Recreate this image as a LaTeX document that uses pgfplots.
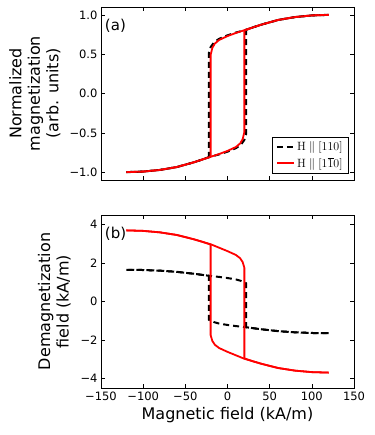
\documentclass[border=0pt]{standalone}
\usepackage[no-math]{fontspec}
\setmainfont{DejaVu Sans}
\usepackage{pgfplots}
\pgfplotsset{compat=1.18}

\pgfplotsset{
  mplstyle/.style={
    scale only axis, width=253pt, height=173pt,
    xmin=-150, xmax=150,
    xtick={-150,-100,-50,0,50,100,150},
    tick align=inside, tick pos=both,
    major tick length=4pt,
    tick style={black, line width=0.6pt},
    axis line style={line width=0.8pt},
    ticklabel style={font=\fontsize{11.5}{13}\selectfont},
    label style={font=\fontsize{16}{18.5}\selectfont, align=center},
  },
  blk/.style={black, line width=2pt, dash pattern=on 6pt off 4pt},
  rd/.style={red, line width=1.8pt},
}

\begin{document}
\begin{tikzpicture}
\path[use as bounding box] (0,0) rectangle (374pt,-435pt);

% (a) magnetization
\begin{axis}[mplstyle,
  at={(101pt,-7pt)}, anchor=north west,
  ymin=-1.1, ymax=1.1,
  ytick={-1,-0.5,0,0.5,1},
  yticklabels={−1.0,−0.5,0.0,0.5,1.0},
  xticklabels={},
  ylabel={Normalized\\magnetization\\(arb. units)},
  every axis y label/.append style={at={(axis description cs:-0.261,0.5)}, anchor=center},
  legend style={at={(0.98,0.035)}, anchor=south east, draw=black, line width=0.6pt,
    font=\fontsize{13}{14}\selectfont, row sep=1pt, inner xsep=4pt, inner ysep=3pt},
  legend cell align=left,
]
\addplot[blk] coordinates {
  (120,1.0)(100,0.993)(80,0.972)(60,0.935)(40,0.875)(30,0.84)(22,0.81)(10,0.775)(0,0.74)
  (-10,0.695)(-16,0.65)(-20,0.59)(-22,0.52)(-22,-0.81)(-30,-0.84)(-40,-0.875)(-60,-0.935)
  (-80,-0.972)(-100,-0.993)(-120,-1.0)};
\addlegendentry{$\mathrm{H}\parallel[110]$}
\addplot[rd] coordinates {
  (120,1.0)(100,0.993)(80,0.972)(60,0.935)(40,0.875)(30,0.84)(20,0.805)(10,0.77)(0,0.73)
  (-10,0.68)(-15,0.635)(-18,0.58)(-20,0.49)(-20,-0.80)(-30,-0.84)(-40,-0.875)(-60,-0.935)
  (-80,-0.972)(-100,-0.993)(-120,-1.0)};
\addlegendentry{$\mathrm{H}\parallel[1\overline{1}0]$}
\addplot[blk, forget plot] coordinates {
  (-120,-1.0)(-100,-0.993)(-80,-0.972)(-60,-0.935)(-40,-0.875)(-30,-0.84)(-22,-0.81)(-10,-0.775)(0,-0.74)
  (10,-0.695)(16,-0.65)(20,-0.59)(22,-0.52)(22,0.81)(30,0.84)(40,0.875)(60,0.935)
  (80,0.972)(100,0.993)(120,1.0)};
\addplot[rd, forget plot] coordinates {
  (-120,-1.0)(-100,-0.993)(-80,-0.972)(-60,-0.935)(-40,-0.875)(-30,-0.84)(-20,-0.805)(-10,-0.77)(0,-0.73)
  (10,-0.68)(15,-0.635)(18,-0.58)(20,-0.49)(20,0.80)(30,0.84)(40,0.875)(60,0.935)
  (80,0.972)(100,0.993)(120,1.0)};
\node[anchor=north west, inner sep=0pt, font=\fontsize{15}{17}\selectfont] at (rel axis cs:0.015,0.93) {(a)};
\end{axis}

% (b) demagnetization field
\begin{axis}[mplstyle,
  at={(101pt,-215pt)}, anchor=north west,
  ymin=-4.5, ymax=4.5,
  ytick={-4,-2,0,2,4},
  yticklabels={−4,−2,0,2,4},
  xticklabels={−150,−100,−50,0,50,100,150},
  xlabel={Magnetic field (kA/m)},
  ylabel={Demagnetization\\field (kA/m)},
  every axis y label/.append style={at={(axis description cs:-0.184,0.5)}, anchor=center},
]
\addplot[blk] coordinates {
  (120,-1.65)(100,-1.638)(80,-1.604)(60,-1.543)(40,-1.444)(30,-1.386)(22,-1.337)(10,-1.279)(0,-1.221)
  (-10,-1.147)(-16,-1.073)(-20,-1.0)(-22,-0.95)(-22,1.337)(-30,1.386)(-40,1.444)(-60,1.543)
  (-80,1.604)(-100,1.638)(-120,1.65)};
\addplot[blk] coordinates {
  (-120,1.65)(-100,1.638)(-80,1.604)(-60,1.543)(-40,1.444)(-30,1.386)(-22,1.337)(-10,1.279)(0,1.221)
  (10,1.147)(16,1.073)(20,1.0)(22,0.95)(22,-1.337)(30,-1.386)(40,-1.444)(60,-1.543)
  (80,-1.604)(100,-1.638)(120,-1.65)};
\addplot[rd] coordinates {
  (120,-3.7)(100,-3.674)(80,-3.596)(60,-3.46)(40,-3.238)(30,-3.108)(20,-2.979)(10,-2.80)(0,-2.62)
  (-10,-2.42)(-15,-2.25)(-18,-2.05)(-20,-1.75)(-20,2.96)(-30,3.108)(-40,3.238)(-60,3.46)
  (-80,3.596)(-100,3.674)(-120,3.7)};
\addplot[rd] coordinates {
  (-120,3.7)(-100,3.674)(-80,3.596)(-60,3.46)(-40,3.238)(-30,3.108)(-20,2.979)(-10,2.80)(0,2.62)
  (10,2.42)(15,2.25)(18,2.05)(20,1.75)(20,-2.96)(30,-3.108)(40,-3.238)(60,-3.46)
  (80,-3.596)(100,-3.674)(120,-3.7)};
\node[anchor=north west, inner sep=0pt, font=\fontsize{15}{17}\selectfont] at (rel axis cs:0.015,0.93) {(b)};
\end{axis}
\end{tikzpicture}
\end{document}
